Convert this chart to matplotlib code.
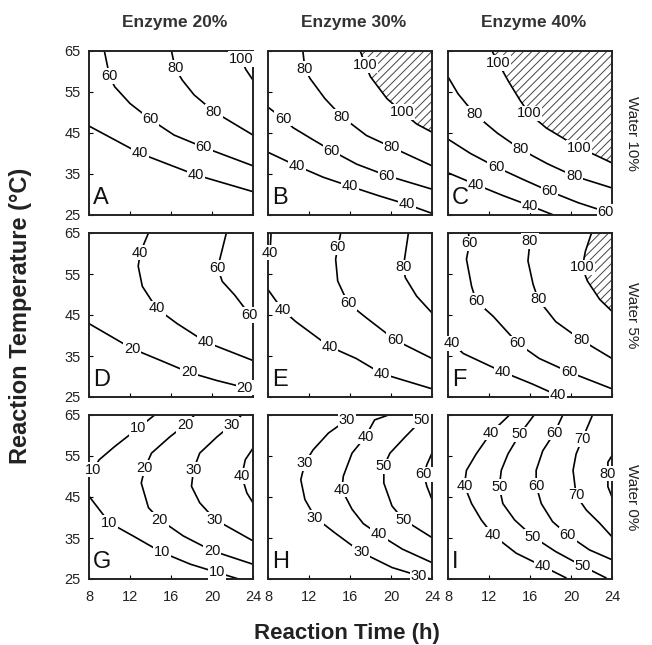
import matplotlib
matplotlib.use("Agg")
import matplotlib.pyplot as plt

plt.rcParams['font.family'] = ['Liberation Sans', 'DejaVu Sans']
plt.rcParams['hatch.linewidth'] = 0.7

# ---------------- data ----------------
time_ticks = [8, 12, 16, 20, 24]
temp_ticks = [25, 35, 45, 55, 65]
enzyme_titles = ['Enzyme 20%', 'Enzyme 30%', 'Enzyme 40%']
water_titles = ['Water 10%', 'Water 5%', 'Water 0%']
panel_letters = ['A', 'B', 'C', 'D', 'E', 'F', 'G', 'H', 'I']

# Each contour: (level, reaction times, temperatures, indices of points carrying the label)
contours_A = [
    (40, [8, 13.0, 18.4, 24], [46.7, 40.0, 34.8, 30.7], [1, 2]),
    (60, [9.5, 10.0, 10.5, 12.0, 14.0, 16.3, 19.2, 24],
         [65, 58.9, 56.3, 52.2, 48.3, 44.5, 41.5, 37.0], [1, 4, 6]),
    (80, [16.05, 16.4, 17.1, 18.25, 20.2, 24],
         [65, 60.8, 57.9, 54.3, 50.2, 44.5], [1, 4]),
    (100, [22.6, 22.85, 23.3, 24], [65, 63.0, 60.5, 57.9], [1]),
]
contours_B = [
    (40, [8, 10.8, 13.4, 16.0, 18.8, 21.55, 24],
         [40.3, 37.0, 34.2, 32.0, 29.7, 27.6, 25.4], [1, 3, 5]),
    (60, [8, 9.47, 10.45, 12.3, 14.2, 16.65, 19.6, 24],
         [51.3, 48.5, 46.3, 43.5, 40.7, 37.4, 34.6, 31.3], [1, 4, 6]),
    (80, [11.4, 11.6, 12.1, 13.55, 15.2, 17.6, 20.1, 24],
         [65, 60.7, 58.3, 53.4, 49.0, 44.4, 41.5, 37.0], [1, 4, 6]),
    (100, [17.0, 17.5, 18.0, 19.6, 21.1, 22.5, 24],
          [65, 61.6, 58.7, 53.4, 50.1, 47.2, 45.2], [1, 4]),
]
contours_C = [
    (40, [8, 10.75, 13.3, 15.95, 18.3], [35.3, 32.4, 29.8, 27.3, 25.0], [1, 3]),
    (60, [8, 10.2, 12.7, 15.3, 17.9, 20.7, 23.4, 24],
         [43.5, 40.0, 36.7, 33.7, 30.8, 28.0, 25.8, 25.4], [2, 4, 6]),
    (80, [8, 8.97, 10.6, 12.8, 15.1, 17.7, 20.3, 24],
         [58.7, 54.6, 49.6, 45.0, 41.0, 37.5, 34.5, 31.6], [2, 4, 6]),
    (100, [12.3, 12.9, 13.9, 15.0, 15.9, 17.6, 20.8, 22.4, 24],
          [65, 62.1, 57.6, 53.1, 49.8, 46.2, 41.4, 39.6, 37.7], [1, 4, 6]),
]
contours_D = [
    (20, [8, 12.2, 15.0, 17.75, 20.5, 23.2, 24],
         [42.9, 36.8, 33.9, 31.0, 29.0, 27.3, 26.9], [1, 3, 5]),
    (40, [13.8, 13.0, 12.8, 13.2, 14.6, 16.6, 19.4, 24],
         [65, 60.2, 56.9, 52.0, 46.6, 42.9, 38.4, 33.9], [1, 4, 6]),
    (60, [21.4, 20.55, 21.0, 22.2, 23.7, 24],
         [65, 56.5, 53.2, 49.9, 45.0, 43.8], [1, 4]),
]
contours_E = [
    (40, [8.3, 8.2, 8.0], [65, 60.2, 58.2], [1]),
    (40, [8, 9.4, 10.7, 14.0, 16.6, 19.1, 24],
         [51.2, 46.3, 43.4, 37.3, 34.4, 30.7, 27.0], [1, 3, 5]),
    (60, [15.1, 14.8, 14.6, 14.8, 15.8, 17.6, 20.4, 24],
         [65, 61.5, 58.6, 53.3, 47.9, 44.3, 38.9, 34.4], [1, 4, 6]),
    (80, [21.7, 21.2, 21.4, 22.5, 24], [65, 56.6, 54.1, 49.6, 45.5], [1]),
]
contours_F = [
    (40, [8.0, 8.4, 9.5, 13.35, 16.2, 18.7, 19.4],
         [38.7, 38.1, 35.6, 31.1, 28.2, 25.4, 25.0], [1, 3, 5]),
    (60, [10.0, 10.1, 9.8, 10.3, 10.75, 12.4, 14.8, 16.9, 19.8, 24],
         [65, 62.5, 58.6, 52.0, 48.4, 44.7, 38.1, 34.4, 31.1, 27.0], [1, 4, 6, 8]),
    (80, [16.0, 16.0, 15.8, 16.3, 16.8, 18.5, 21.0, 24],
         [65, 63.0, 58.2, 52.5, 48.8, 43.4, 38.9, 34.4], [1, 4, 6]),
    (100, [22.0, 21.4, 21.1, 21.6, 22.8, 24],
          [65, 60.5, 56.6, 53.3, 48.8, 45.9], [2]),
]
contours_G = [
    (10, [8.0, 8.4, 9.0, 10.5, 12.8, 14.4], [50.0, 51.7, 54.1, 57.3, 61.8, 65], [1, 4]),
    (10, [8, 10.0, 12.3, 15.1, 17.9, 20.5, 22.6],
         [45.2, 38.7, 35.5, 31.5, 28.6, 26.6, 25.0], [1, 3, 5]),
    (20, [18.3, 17.4, 15.9, 14.1, 13.45, 13.1, 13.8, 14.9, 17.2, 20.0, 24],
         [65, 62.6, 59.7, 55.7, 52.1, 48.4, 42.4, 39.5, 35.5, 31.9, 28.6], [1, 4, 7, 9]),
    (30, [22.9, 21.9, 20.5, 18.8, 18.2, 18.0, 18.8, 20.3, 24],
         [65, 62.6, 59.7, 55.7, 51.7, 47.6, 43.6, 39.5, 34.3], [1, 4, 7]),
    (40, [24, 23.25, 22.9, 23.4, 24], [56.9, 54.1, 50.1, 46.0, 43.6], [2]),
]
contours_H = [
    (30, [16.5, 15.7, 13.9, 12.4, 11.6, 11.2, 11.6, 12.6, 14.5, 17.1, 20.1, 22.7, 23.9],
         [65, 63.8, 60.6, 56.5, 53.3, 49.2, 44.4, 40.0, 36.3, 31.5, 27.8, 25.8, 25.0],
         [1, 4, 7, 9, 11]),
    (40, [19.75, 18.4, 17.5, 16.2, 15.35, 15.2, 16.2, 17.3, 18.8, 21.1, 24],
         [65, 63.8, 59.7, 55.7, 50.1, 46.8, 42.0, 38.5, 35.9, 32.3, 29.0], [2, 5, 8]),
    (50, [23.2, 23.0, 21.4, 19.9, 19.3, 19.3, 20.1, 21.2, 24],
         [65, 63.8, 59.7, 55.7, 52.5, 48.4, 42.8, 39.5, 35.1], [1, 4, 7]),
    (60, [24, 23.5, 23.2, 23.5, 24], [55.7, 52.9, 50.5, 47.6, 44.4], [2]),
]
contours_I = [
    (40, [14.0, 12.2, 10.75, 9.8, 9.6, 10.3, 11.25, 12.4, 14.65, 17.25, 19.5],
         [65, 60.7, 55.5, 51.5, 47.8, 43.4, 39.4, 35.7, 31.3, 28.1, 25.3], [1, 4, 7, 9]),
    (50, [16.4, 15.0, 13.85, 13.2, 13.0, 13.35, 14.5, 16.3, 18.5, 21.15, 23.4],
         [65, 60.3, 55.5, 51.5, 47.4, 43.4, 39.4, 35.3, 31.7, 28.1, 25.3], [1, 4, 7, 9]),
    (60, [19.2, 18.4, 17.25, 16.6, 16.6, 17.1, 18.2, 19.7, 21.8, 24],
         [65, 60.7, 56.3, 51.5, 47.8, 43.4, 39.0, 35.7, 32.1, 29.7], [1, 4, 7]),
    (70, [22.1, 21.1, 20.5, 20.2, 20.5, 21.5, 22.8, 24],
         [65, 59.1, 55.5, 51.5, 45.4, 41.8, 38.6, 35.3], [1, 4]),
    (80, [24, 23.6, 23.6, 23.6, 24], [55.1, 53.5, 50.7, 47.5, 45.0], [2]),
]
panel_contours = [contours_A, contours_B, contours_C,
                  contours_D, contours_E, contours_F,
                  contours_G, contours_H, contours_I]
# panels whose region above this level is hatched (yield > 100%)
hatched_panels = {1: 100, 2: 100, 5: 100}

# ---------------- layout ----------------
W, H = 652, 645
fig = plt.figure(figsize=(W / 100, H / 100), dpi=100)
lefts = [89, 268, 448]
tops = [51, 233, 415]
size = 164

for r in range(3):
    for c in range(3):
        k = r * 3 + c
        ax = fig.add_axes([lefts[c] / W, 1 - (tops[r] + size) / H, size / W, size / H])
        ax.set_xlim(time_ticks[0], time_ticks[-1])
        ax.set_ylim(temp_ticks[0], temp_ticks[-1])
        for s in ax.spines.values():
            s.set_linewidth(1.4)
            s.set_color('#222222')
        ax.set_xticks(time_ticks)
        ax.set_yticks(temp_ticks)
        ax.tick_params(direction='in', length=3, width=0.8, labelsize=10.5,
                       labelbottom=(r == 2), labelleft=(c == 0), labelcolor='#222222')
        ax.tick_params(axis='x', pad=8)
        ax.tick_params(axis='y', pad=6)

        for level, ts, Ts, lab in panel_contours[k]:
            ax.plot(ts, Ts, color='black', lw=1.2, zorder=2, clip_on=True)
            if k in hatched_panels and level == hatched_panels[k]:
                ax.fill(list(ts) + [time_ticks[-1]], list(Ts) + [temp_ticks[-1]],
                        facecolor='none', edgecolor='#444444', hatch='////',
                        linewidth=0, zorder=1)
            for i in lab:
                ax.text(ts[i], Ts[i], str(level), ha='center', va='center',
                        fontsize=10.5, zorder=4, color='#111111',
                        bbox=dict(boxstyle='square,pad=0.05', fc='white', ec='none'))
        ax.text(0.025, 0.035, panel_letters[k], transform=ax.transAxes,
                ha='left', va='bottom', fontsize=17, zorder=5, color='#111111')

for c in range(3):
    fig.text((lefts[c] + size / 2 + 4) / W, 1 - 22 / H, enzyme_titles[c],
             ha='center', va='center', fontsize=12.5, fontweight='bold', color='#333333')
for r in range(3):
    fig.text(632 / W, 1 - (tops[r] + size / 2) / H, water_titles[r],
             ha='center', va='center', fontsize=11, rotation=270, color='#222222')

fig.text(21 / W, 1 - 316 / H, 'Reaction Temperature (°C)', ha='center', va='center',
         rotation=90, fontsize=17, fontweight='bold', color='#222222')
fig.text(347 / W, 1 - 633 / H, 'Reaction Time (h)', ha='center', va='center',
         fontsize=16, fontweight='bold', color='#222222')

fig.savefig('out.png', dpi=100)
